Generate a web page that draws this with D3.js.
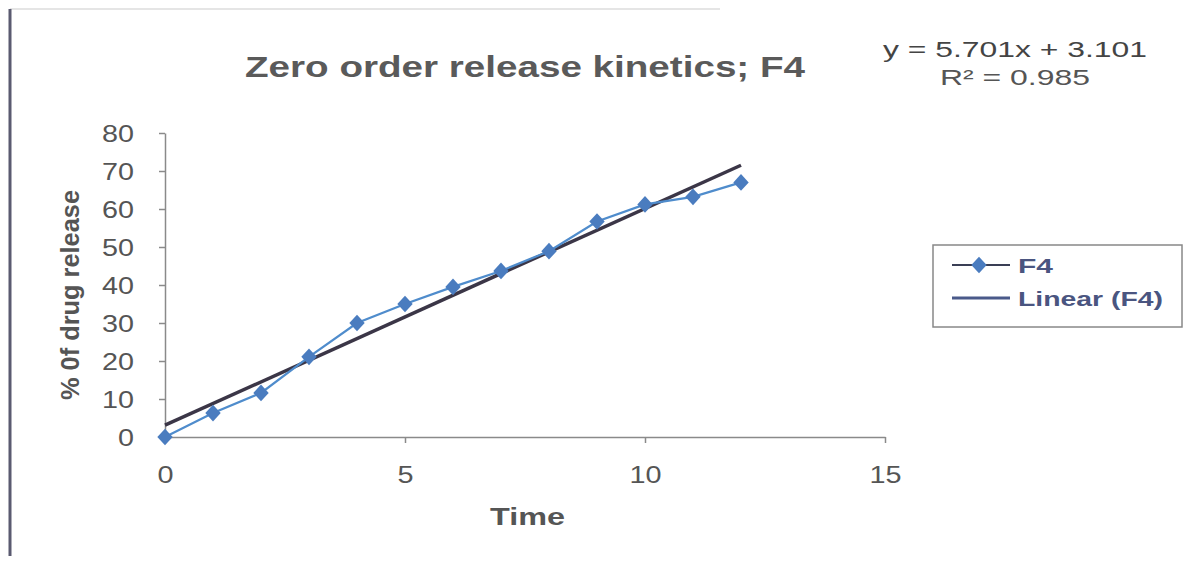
<!DOCTYPE html>
<html lang="en">

<head>
    <meta charset="UTF-8" />
    <script src="https://d3js.org/d3.v7.min.js"></script>
    <title>Zero order release kinetics</title>
    <style>
        body {
            margin: 0;
            background: #fff;
        }

        text {
            font-family: "Liberation Sans", Arial, sans-serif;
        }

        .axis path,
        .axis line {
            stroke: #8a8a8a;
            stroke-width: 1.5;
        }

        .axis text {
            fill: #555;
        }
    </style>
</head>

<body>
    <svg id="chart" width="1188" height="562"></svg>
    <script>
        // data
        const times = [0, 1, 2, 3, 4, 5, 6, 7, 8, 9, 10, 11, 12];
        const release = [0, 6.3, 11.6, 21.1, 30, 35, 39.5, 43.7, 48.9, 56.7, 61.2, 63.2, 67];
        const slope = 5.701;
        const intercept = 3.101;
        const xTicks = [0, 5, 10, 15];
        const yTicks = [0, 10, 20, 30, 40, 50, 60, 70, 80];
        const legendLabels = ["F4", "Linear (F4)"];

        const points = times.map((t, i) => ({ x: t, y: release[i] }));

        const svg = d3.select("#chart");

        // page frame lines
        svg.append("line")
            .attr("x1", 10).attr("x2", 720).attr("y1", 9).attr("y2", 9)
            .attr("stroke", "#ddd").attr("stroke-width", 1.5);
        svg.append("line")
            .attr("x1", 10).attr("x2", 10).attr("y1", 9).attr("y2", 556)
            .attr("stroke", "#5a5a70").attr("stroke-width", 3);

        const x = d3.scaleLinear().domain([0, 15]).range([165, 885]);
        const y = d3.scaleLinear().domain([0, 80]).range([437, 133]);

        // axes (the source picture is stretched sideways, so labels get a scaleX)
        const xAxis = svg.append("g")
            .attr("class", "axis")
            .attr("transform", `translate(0,${y(0)})`)
            .call(d3.axisBottom(x).tickValues(xTicks).tickSize(6).tickSizeOuter(0));
        xAxis.selectAll("text")
            .attr("y", 0).attr("dy", 0)
            .attr("font-size", 24)
            .attr("transform", "translate(0,46) scale(1.2,1)");

        const yAxis = svg.append("g")
            .attr("class", "axis")
            .attr("transform", `translate(${x(0)},0)`)
            .call(d3.axisLeft(y).tickValues(yTicks).tickSize(6).tickSizeOuter(0));
        yAxis.selectAll("text")
            .attr("x", 0).attr("dy", "0.36em")
            .attr("font-size", 23)
            .attr("transform", "translate(-31,0) scale(1.25,1)");

        // trend line
        svg.append("line")
            .attr("x1", x(0)).attr("y1", y(intercept))
            .attr("x2", x(12)).attr("y2", y(slope * 12 + intercept))
            .attr("stroke", "#3b3647")
            .attr("stroke-width", 3.5);

        // series line
        svg.append("path")
            .datum(points)
            .attr("fill", "none")
            .attr("stroke", "#4f8ccc")
            .attr("stroke-width", 2.2)
            .attr("d", d3.line().x(d => x(d.x)).y(d => y(d.y)));

        const diamond = d3.symbol().type(d3.symbolDiamond).size(80);
        svg.selectAll("path.pt")
            .data(points)
            .join("path")
            .attr("class", "pt")
            .attr("transform", d => `translate(${x(d.x)},${y(d.y)}) scale(1.6,1)`)
            .attr("d", diamond)
            .attr("fill", "#4a7cbf");

        // titles
        svg.append("text")
            .attr("x", 245).attr("y", 77)
            .attr("textLength", 560).attr("lengthAdjust", "spacingAndGlyphs")
            .attr("font-size", 30).attr("font-weight", "bold")
            .attr("fill", "#5a5a5a")
            .text("Zero order release kinetics; F4");

        svg.append("text")
            .attr("x", 883).attr("y", 57)
            .attr("textLength", 264).attr("lengthAdjust", "spacingAndGlyphs")
            .attr("font-size", 22)
            .attr("fill", "#444")
            .text("y = 5.701x + 3.101");

        svg.append("text")
            .attr("x", 940).attr("y", 85)
            .attr("textLength", 150).attr("lengthAdjust", "spacingAndGlyphs")
            .attr("font-size", 22)
            .attr("fill", "#555")
            .text("R² = 0.985");

        svg.append("text")
            .attr("x", 490).attr("y", 525)
            .attr("textLength", 75).attr("lengthAdjust", "spacingAndGlyphs")
            .attr("font-size", 24).attr("font-weight", "bold")
            .attr("fill", "#555")
            .text("Time");

        svg.append("text")
            .attr("transform", "translate(79,295) rotate(-90)")
            .attr("text-anchor", "middle")
            .attr("textLength", 210).attr("lengthAdjust", "spacingAndGlyphs")
            .attr("font-size", 25).attr("font-weight", "bold")
            .attr("fill", "#555")
            .text("% 0f drug release");

        // legend
        const legend = svg.append("g").attr("transform", "translate(933,245)");
        legend.append("rect")
            .attr("width", 249).attr("height", 82)
            .attr("fill", "#fff")
            .attr("stroke", "#888").attr("stroke-width", 1.5);

        const legendWidths = [35, 145];
        const rows = legend.selectAll("g.row")
            .data(legendLabels)
            .join("g")
            .attr("class", "row")
            .attr("transform", (d, i) => `translate(0,${20 + i * 33})`);

        rows.append("line")
            .attr("x1", 19).attr("x2", 77)
            .attr("stroke", (d, i) => i === 0 ? "#3a3f55" : "#4a5a8a")
            .attr("stroke-width", (d, i) => i === 0 ? 2 : 3);

        rows.filter((d, i) => i === 0)
            .append("path")
            .attr("transform", "translate(46,0) scale(1.6,1)")
            .attr("d", diamond)
            .attr("fill", "#4a7cbf");

        rows.append("text")
            .attr("x", 85).attr("dy", "0.36em")
            .attr("textLength", (d, i) => legendWidths[i]).attr("lengthAdjust", "spacingAndGlyphs")
            .attr("font-size", 21).attr("font-weight", "bold")
            .attr("fill", "#4a5580")
            .text(d => d);
    </script>
</body>

</html>
